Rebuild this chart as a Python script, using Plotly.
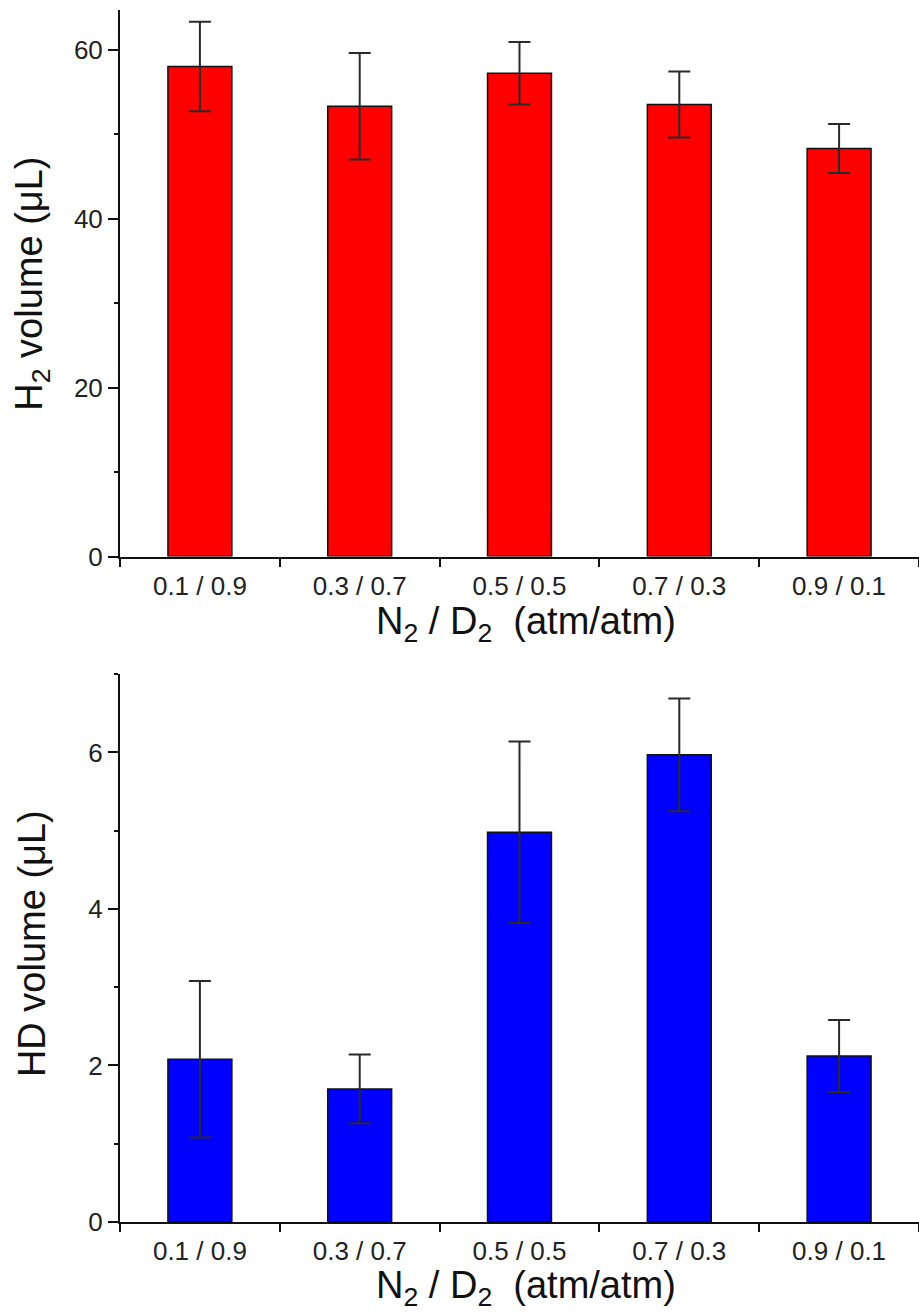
import plotly.graph_objects as go

categories = ["0.1 / 0.9", "0.3 / 0.7", "0.5 / 0.5", "0.7 / 0.3", "0.9 / 0.1"]
h2_values = [58.0, 53.3, 57.2, 53.5, 48.3]
h2_errors = [5.3, 6.3, 3.7, 3.9, 2.9]
hd_values = [2.08, 1.70, 4.98, 5.97, 2.12]
hd_errors = [1.0, 0.44, 1.16, 0.72, 0.46]

W, H = 919, 1315
FONT = "Liberation Sans, Arial, sans-serif"

fig = go.Figure()
fig.add_trace(go.Bar(
    x=categories, y=h2_values, xaxis="x", yaxis="y", width=0.4,
    marker=dict(color="#ff0000", line=dict(color="#111111", width=1.5)),
    error_y=dict(type="data", array=h2_errors, color="#2a2a2a", thickness=2, width=11),
    showlegend=False,
))
fig.add_trace(go.Bar(
    x=categories, y=hd_values, xaxis="x2", yaxis="y2", width=0.4,
    marker=dict(color="#0000ff", line=dict(color="#111111", width=1.5)),
    error_y=dict(type="data", array=hd_errors, color="#2a2a2a", thickness=2, width=11),
    showlegend=False,
))

def px_x(p):
    return p / W

def px_y(p):
    return (H - p) / H

xcommon = dict(
    type="category", range=[-0.5, 4.5], showline=True, linecolor="#111111", linewidth=2,
    ticks="outside", ticklen=8, tickwidth=1.5, tickcolor="#111111", tickson="boundaries",
    ticklabelstandoff=5,
    tickfont=dict(family=FONT, size=26, color="#222222"), showgrid=False, zeroline=False,
    fixedrange=True,
)
ycommon = dict(
    showline=True, linecolor="#111111", linewidth=2, ticks="outside", ticklen=10,
    tickwidth=1.5, tickcolor="#111111", showgrid=False, zeroline=False,
    tickfont=dict(family=FONT, size=26, color="#222222"),
)

fig.update_layout(
    width=W, height=H, margin=dict(l=0, r=0, t=0, b=0),
    paper_bgcolor="white", plot_bgcolor="white",
    xaxis=dict(domain=[px_x(120), 1.0], anchor="y", **xcommon),
    yaxis=dict(domain=[px_y(563), px_y(10)], anchor="x", range=[0, 64.7],
               tickvals=[0, 20, 40, 60],
               minor=dict(tickvals=[10, 30, 50], ticks="outside", ticklen=4, tickwidth=1.5, tickcolor="#111111"),
               **ycommon),
    xaxis2=dict(domain=[px_x(120), 1.0], anchor="y2", **xcommon),
    yaxis2=dict(domain=[px_y(1236), px_y(682)], anchor="x2", range=[0, 7.0],
                tickvals=[0, 2, 4, 6],
                minor=dict(tickvals=[1, 3, 5, 7], ticks="outside", ticklen=4, tickwidth=1.5, tickcolor="#111111"),
                **ycommon),
)

title_font = dict(family=FONT, size=38, color="#111111")
annotations = [
    dict(text="H<sub>2</sub> volume (μL)", x=px_x(32), y=px_y(287), textangle=-90),
    dict(text="HD volume (μL)", x=px_x(32), y=px_y(955), textangle=-90),
    dict(text="N<sub>2</sub> / D<sub>2</sub>  (atm/atm)", x=px_x(526), y=px_y(631), textangle=0),
    dict(text="N<sub>2</sub> / D<sub>2</sub>  (atm/atm)", x=px_x(526), y=px_y(1303), textangle=0),
]
for a in annotations:
    fig.add_annotation(xref="paper", yref="paper", showarrow=False, xanchor="center",
                       yanchor="middle", font=title_font, **a)

fig.write_html("out.html", config={"displayModeBar": False},
               post_script="document.body.style.margin='0px';")
